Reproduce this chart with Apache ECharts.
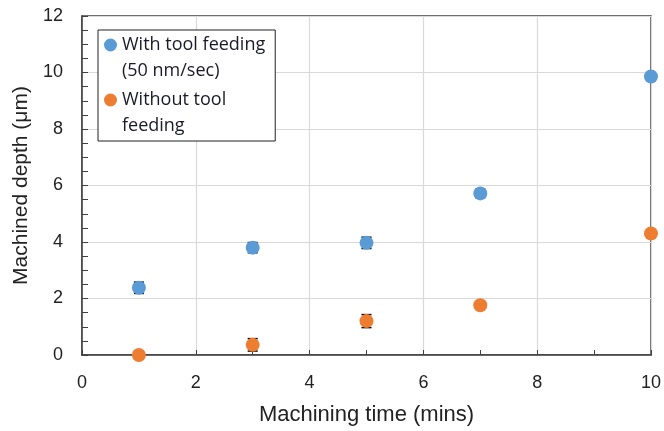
<!DOCTYPE html>
<html><head><meta charset="utf-8">
<script src="https://cdn.jsdelivr.net/npm/echarts@6/dist/echarts.min.js"></script>
<style>html,body{margin:0;padding:0;background:#fff}#c{width:664px;height:431px}</style>
</head><body><div id="c"></div>
<script>
const times = [1, 3, 5, 7, 10];
const withFeed = [2.38, 3.8, 3.97, 5.72, 9.86];
const withFeedErr = [0.2, 0.18, 0.2, 0.15, 0.12];
const withoutFeed = [0.0, 0.36, 1.2, 1.76, 4.3];
const withoutFeedErr = [0.14, 0.22, 0.23, 0.1, 0.08];
const xTicks = [0, 2, 4, 6, 8, 10];
const yTicks = [0, 2, 4, 6, 8, 10, 12];
const nameWith = 'With tool feeding\n(50 nm/sec)';
const nameWithout = 'Without tool\nfeeding';

// legend icon: circle at the top of a tall box so it lines up with the first text line
const topDot = 'path://M0,6.5 A6.5,6.5 0 1 1 13,6.5 A6.5,6.5 0 1 1 0,6.5 Z M6.5,39 L6.51,39 Z';

function errData(vals, errs) {
  return times.map((t, i) => [t, vals[i] - errs[i], vals[i] + errs[i]]);
}
function errRender(params, api) {
  const x = api.value(0);
  const lo = api.coord([x, api.value(1)]);
  const hi = api.coord([x, api.value(2)]);
  const w = 5;
  const st = {stroke: '#000', lineWidth: 1.5};
  return {type: 'group', children: [
    {type: 'line', shape: {x1: lo[0], y1: lo[1], x2: hi[0], y2: hi[1]}, style: st},
    {type: 'line', shape: {x1: lo[0]-w, y1: lo[1], x2: lo[0]+w, y2: lo[1]}, style: st},
    {type: 'line', shape: {x1: hi[0]-w, y1: hi[1], x2: hi[0]+w, y2: hi[1]}, style: st}
  ]};
}
const chart = echarts.init(document.getElementById('c'));
chart.setOption({
  animation: false,
  backgroundColor: '#fff',
  grid: {left: 82, right: 13, top: 16, bottom: 74, show: true, borderColor: '#404040', borderWidth: 1.5},
  legend: {
    orient: 'vertical', left: 98, top: 30,
    backgroundColor: '#fff', borderColor: '#222', borderWidth: 1,
    padding: [2, 10, 2, 6], itemGap: 3, itemWidth: 13, itemHeight: 39,
    textStyle: {fontFamily: 'Open Sans', fontSize: 18, color: '#1a1a2a', lineHeight: 26},
    data: [{name: nameWith, icon: topDot}, {name: nameWithout, icon: topDot}]
  },
  xAxis: {
    type: 'value', min: 0, max: 10, interval: 2,
    name: 'Machining time (mins)', nameLocation: 'middle', nameGap: 49,
    nameTextStyle: {fontFamily: 'Liberation Sans', fontSize: 22, color: '#222'},
    axisLine: {lineStyle: {color: '#404040', width: 1.5}},
    axisTick: {inside: true, length: 5, lineStyle: {color: '#404040'}},
    minorTick: {show: true, splitNumber: 2, length: 5, lineStyle: {color: '#404040'}},
    axisLabel: {fontFamily: 'Liberation Sans', fontSize: 18, color: '#222', margin: 19,
      formatter: v => xTicks.includes(v) ? String(v) : ''},
    splitLine: {show: true, lineStyle: {color: '#d9d9d9', width: 1.2}}
  },
  yAxis: {
    type: 'value', min: 0, max: 12, interval: 2,
    name: 'Machined depth (μm)', nameLocation: 'middle', nameGap: 50,
    nameTextStyle: {fontFamily: 'Liberation Sans', fontSize: 21, color: '#222'},
    axisLine: {show: true, lineStyle: {color: '#404040', width: 1.5}},
    axisTick: {show: true, inside: true, length: 6, lineStyle: {color: '#404040'}},
    minorTick: {show: true, splitNumber: 4, length: 6, lineStyle: {color: '#404040'}},
    axisLabel: {fontFamily: 'Liberation Sans', fontSize: 18, color: '#222', margin: 19,
      formatter: v => yTicks.includes(v) ? String(v) : ''},
    splitLine: {show: true, lineStyle: {color: '#d9d9d9', width: 1.2}}
  },
  series: [
    {type: 'custom', renderItem: errRender, data: errData(withFeed, withFeedErr), z: 1, silent: true},
    {type: 'custom', renderItem: errRender, data: errData(withoutFeed, withoutFeedErr), z: 1, silent: true},
    {name: nameWith, type: 'scatter', symbol: 'circle', symbolSize: 14, z: 3,
      itemStyle: {color: '#5B9BD5', opacity: 1},
      data: times.map((t, i) => [t, withFeed[i]])},
    {name: nameWithout, type: 'scatter', symbol: 'circle', symbolSize: 14, z: 3,
      itemStyle: {color: '#ED7D31', opacity: 1},
      data: times.map((t, i) => [t, withoutFeed[i]])}
  ]
});
</script></body></html>
